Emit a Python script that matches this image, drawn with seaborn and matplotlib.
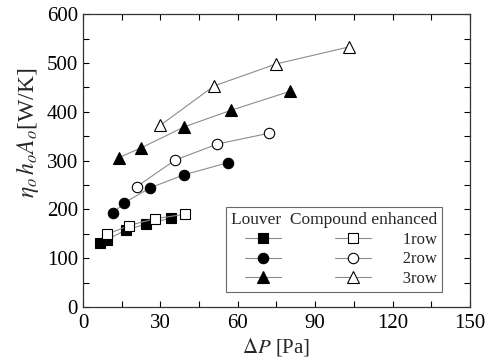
import matplotlib
matplotlib.use("Agg")
import matplotlib.pyplot as plt
import seaborn as sns
import pandas as pd
from matplotlib.lines import Line2D
from matplotlib.ticker import MultipleLocator

# Data
louver1_x = [6.5, 9.3, 16.6, 24.6, 34.0]
louver1_y = [131, 138, 158, 170, 182]
comp1_x = [9.4, 17.8, 27.8, 39.4]
comp1_y = [149, 167, 181, 190]
louver2_x = [11.6, 15.9, 25.9, 39.2, 56.3]
louver2_y = [192, 213, 244, 271, 296]
comp2_x = [20.9, 35.7, 52.1, 72.0]
comp2_y = [247, 301, 334, 356]
louver3_x = [13.8, 22.5, 39.2, 57.3, 80.3]
louver3_y = [306, 326, 369, 403, 442]
comp3_x = [29.9, 50.8, 74.9, 103.2]
comp3_y = [372, 453, 498, 533]
row_labels = ["1row", "2row", "3row"]
x_ticks = [0, 30, 60, 90, 120, 150]
y_ticks = [0, 100, 200, 300, 400, 500, 600]

sns.set_style("ticks")
plt.rcParams["font.family"] = ["Liberation Serif", "DejaVu Serif"]
plt.rcParams["mathtext.fontset"] = "stix"

fig = plt.figure(figsize=(4.91, 3.63), dpi=100)
ax = fig.add_axes([0.169, 0.154, 0.788, 0.807])

series = [
    (louver1_x, louver1_y, "s", "black"),
    (comp1_x, comp1_y, "s", "white"),
    (louver2_x, louver2_y, "o", "black"),
    (comp2_x, comp2_y, "o", "white"),
    (louver3_x, louver3_y, "^", "black"),
    (comp3_x, comp3_y, "^", "white"),
]
for xs, ys, m, fc in series:
    df = pd.DataFrame({"x": xs, "y": ys})
    sns.lineplot(data=df, x="x", y="y", ax=ax, sort=False, color="#8c8c8c",
                 linewidth=0.8, marker=m, markersize=7.5 if m != "^" else 8.5,
                 markerfacecolor=fc, markeredgecolor="black",
                 markeredgewidth=0.8, legend=False, zorder=3)

ax.set_xlim(0, 150)
ax.set_ylim(0, 600)
ax.set_xticks(x_ticks)
ax.set_yticks(y_ticks)
ax.xaxis.set_minor_locator(MultipleLocator(15))
ax.yaxis.set_minor_locator(MultipleLocator(50))
ax.tick_params(which="both", direction="in", top=True, right=True,
               length=4, width=0.8, labelsize=15, colors="black")
ax.tick_params(axis="x", pad=5)
for s in ax.spines.values():
    s.set_linewidth(0.9)
    s.set_color("#333333")

ax.set_xlabel(r"$\Delta P$ [Pa]", fontsize=15, labelpad=2)
ax.set_ylabel(r"$\eta_o\,h_o A_o$[W/K]", fontsize=17)
ax.yaxis.set_label_coords(-0.108, 0.594)

def h(m, fc):
    return Line2D([], [], color="#8c8c8c", linewidth=0.8, marker=m,
                  markersize=7.5 if m != "^" else 8.5,
                  markerfacecolor=fc, markeredgecolor="black", markeredgewidth=0.8)

handles = [h("s", "black"), h("o", "black"), h("^", "black"),
           h("s", "white"), h("o", "white"), h("^", "white")]
labels = ["", "", ""] + [f"      {r}" for r in row_labels]
leg = ax.legend(handles=handles, labels=labels, ncol=2, loc="lower right",
                bbox_to_anchor=(0.928, 0.051), title="Louver  Compound enhanced",
                fontsize=12, title_fontsize=12.5, frameon=True, fancybox=False,
                handlelength=2.2, handletextpad=0.4, columnspacing=2.8,
                borderpad=0.3, labelspacing=0.22, borderaxespad=0)
leg._legend_box.align = "right"
leg.get_frame().set_edgecolor("#444444")
leg.get_frame().set_linewidth(0.8)

fig.savefig("out.png", dpi=100)
